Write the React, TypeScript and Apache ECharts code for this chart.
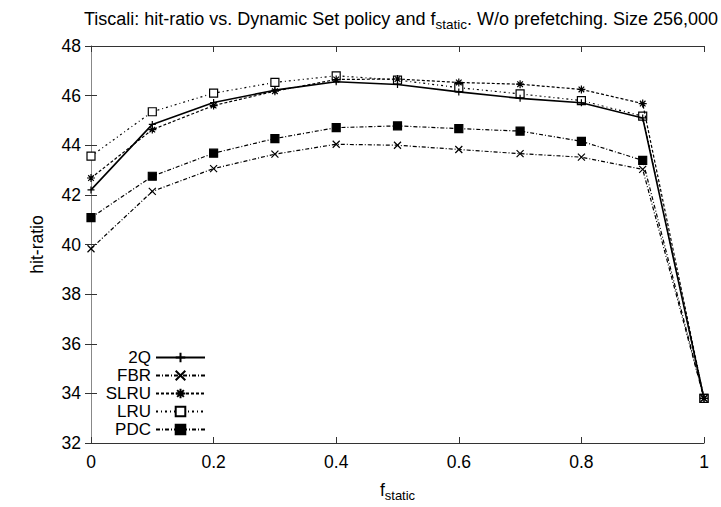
import React, { useEffect, useRef } from "react";
import * as echarts from "echarts";

const fStatic = [0, 0.1, 0.2, 0.3, 0.4, 0.5, 0.6, 0.7, 0.8, 0.9, 1];
const q2 = [42.2, 44.84, 45.72, 46.22, 46.56, 46.45, 46.15, 45.89, 45.71, 45.1, 33.8];
const fbr = [39.83, 42.14, 43.06, 43.64, 44.04, 44.0, 43.83, 43.66, 43.52, 43.03, 33.8];
const slru = [42.68, 44.63, 45.6, 46.18, 46.65, 46.67, 46.53, 46.46, 46.25, 45.68, 33.8];
const lru = [43.56, 45.35, 46.1, 46.53, 46.8, 46.63, 46.32, 46.07, 45.8, 45.17, 33.8];
const pdc = [41.08, 42.75, 43.68, 44.27, 44.71, 44.78, 44.67, 44.57, 44.16, 43.39, 33.8];

const seriesNames = ["2Q", "FBR", "SLRU", "LRU", "PDC"];
const seriesValues = [q2, fbr, slru, lru, pdc];

const FONT = "Liberation Sans, Arial, Helvetica, sans-serif";

const symbols = [
  "path://M5,0L5,10M0,5L10,5",
  "path://M0,0L10,10M0,10L10,0",
  "path://M0,5L10,5M5,0L5,10M1.5,1.5L8.5,8.5M1.5,8.5L8.5,1.5",
  "rect",
  "rect",
];
const symbolSizes = [7, 7, 8, 8, 8];
const dashes: (number[] | "solid")[] = ["solid", [4, 2, 1, 2], [3, 2], [2, 3, 1, 3], [4, 2, 1, 2]];
const fills = ["#000", "#000", "#000", "#fff", "#000"];
const widths = [1.6, 1.2, 1.2, 1.2, 1.2];
const legendCenters = [357, 375, 393, 411, 429];

export default function App() {
  const ref = useRef<HTMLDivElement>(null);
  useEffect(() => {
    if (!ref.current) return;
    const chart = echarts.init(ref.current, undefined, { renderer: "svg" });
    const darkLine = { show: true, lineStyle: { color: "#333", width: 1 } };
    const grayLine = { show: true, lineStyle: { color: "#888", width: 1 } };
    const tick = { show: true, inside: true, length: 6, lineStyle: { color: "#333" } };
    const series = seriesNames.map((name, i) => ({
      name,
      type: "line",
      data: fStatic.map((x, j) => [x, seriesValues[i][j]]),
      symbol: symbols[i],
      symbolSize: symbolSizes[i],
      showAllSymbol: true,
      lineStyle: { color: "#000", width: widths[i], type: dashes[i] },
      itemStyle: { color: fills[i], borderColor: "#000", borderWidth: 1.2 },
      z: 10 - i,
    }));
    const legends = seriesNames.map((name, i) => ({
      data: [name],
      orient: "vertical",
      right: 721 - 206,
      top: legendCenters[i] - 8,
      itemWidth: 49,
      itemHeight: 12,
      itemGap: 0,
      align: "right",
      padding: 0,
      textStyle: { fontFamily: FONT, fontSize: 17, color: "#000", lineHeight: 16 },
      selectedMode: false,
    }));
    chart.setOption({
      animation: false,
      backgroundColor: "#fff",
      title: {
        text: "Tiscali: hit-ratio vs. Dynamic Set policy and f{sub|static}. W/o prefetching. Size 256,000",
        left: 396,
        textAlign: "center",
        top: 2,
        textStyle: {
          fontFamily: FONT,
          fontSize: 18,
          fontWeight: "normal",
          color: "#000",
          rich: {
            sub: { fontFamily: FONT, fontSize: 13.5, color: "#000", verticalAlign: "bottom", padding: [10, 0, 0, 0] },
          },
        },
      },
      legend: legends,
      grid: { left: 91, right: 17, top: 46, bottom: 64, containLabel: false },
      xAxis: [
        {
          type: "value",
          min: 0,
          max: 1,
          interval: 0.2,
          position: "bottom",
          name: "f{sub|static}",
          nameLocation: "middle",
          nameGap: 34,
          nameTextStyle: {
            fontFamily: FONT,
            fontSize: 17.5,
            color: "#000",
            rich: { sub: { fontFamily: FONT, fontSize: 13, color: "#000", padding: [12, 0, 0, 0] } },
          },
          axisLine: darkLine,
          axisTick: tick,
          axisLabel: {
            fontFamily: FONT,
            fontSize: 17.5,
            color: "#000",
            margin: 10,
            formatter: (v: number) => (v === 0 ? "0" : v === 1 ? "1" : String(+v.toFixed(1))),
          },
          splitLine: { show: false },
        },
        {
          type: "value",
          min: 0,
          max: 1,
          interval: 0.2,
          position: "top",
          axisLine: darkLine,
          axisTick: tick,
          axisLabel: { show: false },
          splitLine: { show: false },
        },
      ],
      yAxis: [
        {
          type: "value",
          min: 32,
          max: 48,
          interval: 2,
          position: "left",
          name: "hit-ratio",
          nameLocation: "middle",
          nameGap: 45,
          nameRotate: 90,
          nameTextStyle: { fontFamily: FONT, fontSize: 17.5, color: "#000" },
          axisLine: grayLine,
          axisTick: tick,
          axisLabel: { fontFamily: FONT, fontSize: 17.5, color: "#000", margin: 10 },
          splitLine: { show: false },
        },
        {
          type: "value",
          min: 32,
          max: 48,
          interval: 2,
          position: "right",
          axisLine: grayLine,
          axisTick: tick,
          axisLabel: { show: false },
          splitLine: { show: false },
        },
      ],
      series,
    });
    return () => chart.dispose();
  }, []);
  return (
    <div
      ref={ref}
      style={{ position: "fixed", left: 0, top: 0, width: 721, height: 507, background: "#fff" }}
    />
  );
}
